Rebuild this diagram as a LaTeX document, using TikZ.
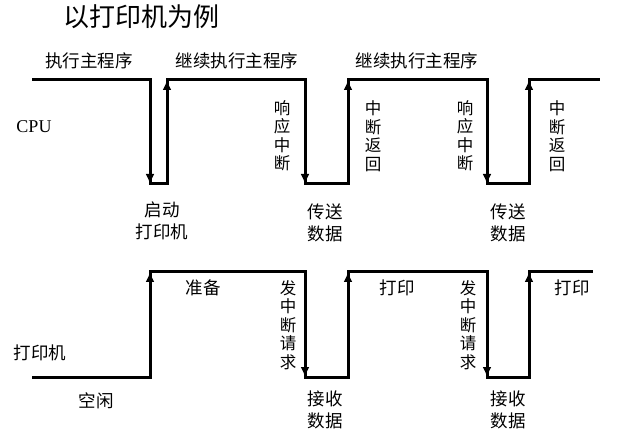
\documentclass[tikz,border=0pt]{standalone}
\usepackage{fontspec}
\setmainfont{Liberation Serif}
\newfontfamily\cjk{Noto Sans CJK SC}[Scale=1]
\usetikzlibrary{arrows.meta}
\tikzset{
  wave/.style={line width=3pt, line join=miter, line cap=rect},
  arr/.style={line width=3pt, -{Latex[length=10pt,width=9pt]}},
  lbl/.style={font=\cjk\fontsize{17.5}{21}\selectfont, inner sep=0pt, align=center},
  vlbl/.style={font=\cjk\fontsize{16.5}{18.5}\selectfont, inner sep=0pt, align=center},
  two/.style={font=\cjk\fontsize{17.5}{22.5}\selectfont},
}
\begin{document}
\begin{tikzpicture}[x=1pt,y=-1pt]
\useasboundingbox (0,0) rectangle (621,438);
% CPU waveform
\coordinate (c0) at (33,80);  \coordinate (c1) at (150,80);
\coordinate (c2) at (150,184);\coordinate (c3) at (167,184);
\coordinate (c4) at (167,80); \coordinate (c5) at (305,80);
\coordinate (c6) at (305,184);\coordinate (c7) at (348,184);
\coordinate (c8) at (348,80); \coordinate (c9) at (487,80);
\coordinate (c10) at (487,184);\coordinate (c11) at (529,184);
\coordinate (c12) at (529,80);\coordinate (c13) at (598,80);
\draw[wave] (c0)--(c1)--(c2)--(c3)--(c4)--(c5)--(c6)--(c7)--(c8)--(c9)--(c10)--(c11)--(c12)--(c13);
\foreach \a/\b in {c1/c2,c3/c4,c5/c6,c7/c8,c9/c10,c11/c12} \draw[arr] (\a)--(\b);
% printer waveform
\coordinate (p0) at (33,377); \coordinate (p1) at (150,377);
\coordinate (p2) at (150,272);\coordinate (p3) at (305,272);
\coordinate (p4) at (305,377);\coordinate (p5) at (348,377);
\coordinate (p6) at (348,272);\coordinate (p7) at (487,272);
\coordinate (p8) at (487,377);\coordinate (p9) at (529,377);
\coordinate (p10) at (529,272);\coordinate (p11) at (591,272);
\draw[wave] (p0)--(p1)--(p2)--(p3)--(p4)--(p5)--(p6)--(p7)--(p8)--(p9)--(p10)--(p11);
\foreach \a/\b in {p1/p2,p3/p4,p5/p6,p7/p8,p9/p10} \draw[arr] (\a)--(\b);
% labels
\node[font=\cjk\fontsize{26}{30}\selectfont, inner sep=0pt] (title) at (141,17) {以打印机为例};
\node[lbl] (t1) at (89,61) {执行主程序};
\node[lbl] (t2) at (237,61) {继续执行主程序};
\node[lbl] (t3) at (417,61) {继续执行主程序};
\node[font=\fontsize{18}{20}\selectfont, inner sep=0pt] (cpu) at (34,127) {CPU};
\node[vlbl] (v1) at (282,136) {响\\应\\中\\断};
\node[vlbl] (v2) at (373,136) {中\\断\\返\\回};
\node[vlbl] (v3) at (465,136) {响\\应\\中\\断};
\node[vlbl] (v4) at (557,136) {中\\断\\返\\回};
\node[lbl, two] (s1) at (162,221) {启动\\打印机};
\node[lbl, two] (s2) at (325,223) {传送\\数据};
\node[lbl, two] (s3) at (508,223) {传送\\数据};
\node[lbl] (r1) at (203,288) {准备};
\node[vlbl] (v5) at (288,325) {发\\中\\断\\请\\求};
\node[lbl] (r2) at (397,288) {打印};
\node[vlbl] (v6) at (468,325) {发\\中\\断\\请\\求};
\node[lbl] (r3) at (572,288) {打印};
\node[lbl] (prt) at (40,353) {打印机};
\node[lbl] (idle) at (96,401) {空闲};
\node[lbl, two] (q1) at (325,410) {接收\\数据};
\node[lbl, two] (q2) at (508,410) {接收\\数据};
\end{tikzpicture}
\end{document}
